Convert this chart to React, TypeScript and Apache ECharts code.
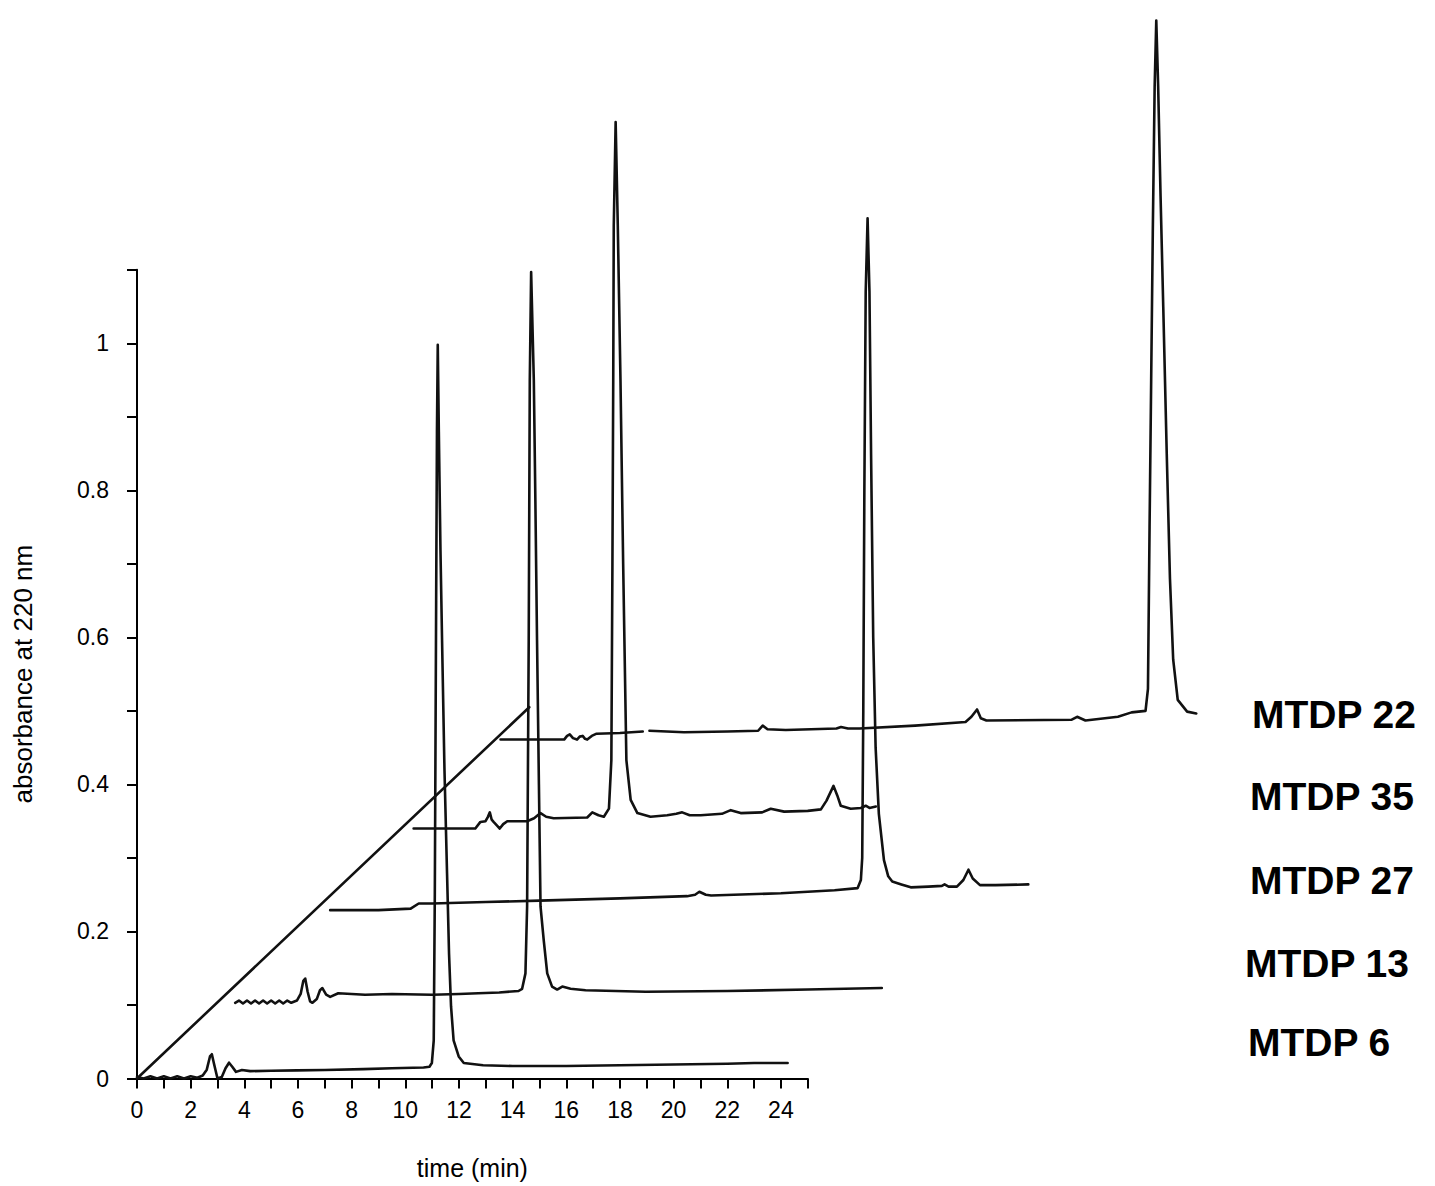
import React, { useEffect, useRef } from "react";
import * as echarts from "echarts";

// ---- data (time in min, absorbance at 220 nm), as drawn in the stacked plot ----
const traceNames = ["MTDP 6", "MTDP 13", "MTDP 27", "MTDP 35", "MTDP 22"];

const mtdp6: (number | string)[][] = [
  [0, 0.002], [0.25, 0.0], [0.5, 0.003], [0.75, 0.0], [1.0, 0.003], [1.25, 0.0], [1.5, 0.003],
  [1.75, 0.0], [2.0, 0.003], [2.25, 0.001], [2.45, 0.004], [2.6, 0.012], [2.72, 0.03], [2.79, 0.033],
  [2.87, 0.02], [3.0, 0.0], [3.16, 0.002], [3.3, 0.014], [3.43, 0.0215], [3.55, 0.016], [3.69, 0.009],
  [3.91, 0.0116], [4.22, 0.01], [5.0, 0.0105], [5.96, 0.011], [7.0, 0.0115], [8.44, 0.0128],
  [9.5, 0.014], [10.68, 0.015], [10.9, 0.016], [10.99, 0.021], [11.06, 0.052], [11.1, 0.25],
  [11.15, 0.65], [11.18, 0.88], [11.21, 0.998], [11.25, 0.88], [11.31, 0.72], [11.37, 0.596],
  [11.46, 0.42], [11.556, 0.279], [11.63, 0.17], [11.705, 0.098], [11.8, 0.052], [11.99, 0.03],
  [12.18, 0.021], [12.9, 0.018], [14, 0.017], [16, 0.017], [18, 0.018], [20, 0.019], [22, 0.02],
  [23, 0.021], [24.25, 0.021],
];

const mtdp13: (number | string)[][] = [
  [3.66, 0.103], [3.8, 0.106], [3.95, 0.102], [4.1, 0.106], [4.25, 0.102], [4.4, 0.106], [4.55, 0.102],
  [4.7, 0.106], [4.85, 0.102], [5.0, 0.106], [5.15, 0.102], [5.3, 0.106], [5.45, 0.102], [5.6, 0.106],
  [5.75, 0.103], [5.96, 0.106], [6.1, 0.115], [6.2, 0.133], [6.27, 0.136], [6.36, 0.118], [6.45, 0.105],
  [6.54, 0.103], [6.7, 0.108], [6.82, 0.12], [6.91, 0.123], [7.05, 0.114], [7.2, 0.111], [7.5, 0.116],
  [8.5, 0.114], [9.5, 0.115], [11.0, 0.114], [12.0, 0.115], [12.72, 0.116], [13.5, 0.117],
  [14.22, 0.119], [14.354, 0.122], [14.478, 0.143], [14.54, 0.234], [14.6, 0.596], [14.64, 0.95],
  [14.69, 1.097], [14.79, 0.95], [14.85, 0.78], [14.91, 0.596], [14.98, 0.4], [15.04, 0.234],
  [15.16, 0.188], [15.29, 0.143], [15.47, 0.125], [15.66, 0.121], [15.85, 0.125], [16.16, 0.122],
  [16.72, 0.12], [18.96, 0.118], [22, 0.119], [25, 0.121], [27.76, 0.123],
];

const mtdp27: (number | string)[][] = [
  [7.2, 0.229], [9.0, 0.229], [10.2, 0.231], [10.5, 0.238], [11.0, 0.238], [13, 0.24], [15.0, 0.242],
  [18.0, 0.245], [20.5, 0.248], [20.8, 0.25], [20.96, 0.254], [21.2, 0.25], [21.4, 0.249], [24.0, 0.252],
  [26.0, 0.256], [26.86, 0.259], [26.98, 0.27], [27.03, 0.3], [27.07, 0.5], [27.11, 0.8], [27.16, 1.07],
  [27.23, 1.17], [27.3, 1.07], [27.36, 0.85], [27.44, 0.6], [27.53, 0.45], [27.65, 0.36], [27.84, 0.297],
  [28.0, 0.275], [28.15, 0.268], [28.49, 0.264], [28.84, 0.26], [29.5, 0.261], [30.0, 0.262],
  [30.1, 0.264], [30.25, 0.261], [30.56, 0.261], [30.8, 0.27], [30.99, 0.284], [31.15, 0.272],
  [31.42, 0.263], [32, 0.263], [33.22, 0.264],
];

const mtdp35: (number | string)[][] = [
  [10.31, 0.34], [12.61, 0.34], [12.8, 0.349], [12.99, 0.35], [13.08, 0.356], [13.15, 0.362],
  [13.22, 0.352], [13.29, 0.349], [13.42, 0.344], [13.52, 0.34], [13.65, 0.346], [13.8, 0.35],
  [14.54, 0.35], [14.8, 0.354], [15.04, 0.361], [15.25, 0.356], [15.53, 0.354], [16.78, 0.355],
  [16.97, 0.362], [17.2, 0.358], [17.4, 0.356], [17.59, 0.367], [17.68, 0.433], [17.72, 0.7],
  [17.75, 0.95], [17.77, 1.16], [17.84, 1.301], [17.92, 1.16], [18.02, 0.95], [18.12, 0.7],
  [18.24, 0.433], [18.4, 0.379], [18.65, 0.361], [19.14, 0.356], [19.76, 0.358], [20.1, 0.36],
  [20.32, 0.362], [20.6, 0.358], [21.01, 0.358], [21.8, 0.36], [22.13, 0.365], [22.5, 0.361],
  [23.3, 0.362], [23.62, 0.367], [24.12, 0.363], [25.0, 0.364], [25.49, 0.366], [25.7, 0.378],
  [25.96, 0.398], [26.1, 0.385], [26.23, 0.371], [26.6, 0.367], [26.98, 0.368], [27.16, 0.371],
  [27.3, 0.368], [27.54, 0.37],
];

const mtdp22: (number | string)[][] = [
  [13.55, 0.461], [15.92, 0.461], [16.03, 0.466], [16.13, 0.468], [16.25, 0.463], [16.4, 0.461],
  [16.5, 0.465], [16.61, 0.466], [16.7, 0.462], [16.78, 0.461], [16.95, 0.466], [17.13, 0.469],
  [18.0, 0.47], [18.85, 0.472], [18.97, "-"], [19.1, 0.473], [20.39, 0.471], [22.0, 0.472],
  [23.15, 0.473], [23.32, 0.48], [23.5, 0.475], [24.18, 0.474], [26.07, 0.476], [26.24, 0.478],
  [26.5, 0.476], [26.93, 0.476], [29, 0.48], [30.88, 0.485], [31.1, 0.492], [31.31, 0.502],
  [31.45, 0.49], [31.66, 0.487], [34.84, 0.488], [35.04, 0.492], [35.35, 0.487], [36.56, 0.492],
  [37.07, 0.498], [37.59, 0.5], [37.68, 0.53], [37.74, 0.75], [37.8, 0.95], [37.86, 1.15],
  [37.93, 1.35], [37.99, 1.439], [38.06, 1.35], [38.15, 1.2], [38.25, 1.05], [38.38, 0.85],
  [38.5, 0.68], [38.62, 0.57], [38.79, 0.515], [39.14, 0.499], [39.48, 0.4965],
];

const diagonal: number[][] = [[0, 0], [14.62, 0.505]];

const xMin = 0;
const xMax = 25;
const xInterval = 1;
const yMin = 0;
const yMax = 1.1;
const yInterval = 0.1;

// label anchor positions (px) for the sample names
const labelLefts = [1248, 1245, 1250, 1250, 1252];
const labelCenters = [1042, 963, 880, 796, 714];

// ---- layout ----
const PX_PER_MIN = 26.83;
const PX_PER_ABS = 735.2;
const X0 = 137;
const Y0 = 1078.5;
const DATA_XMAX = 41;
const DATA_YMAX = 1.46;

export default function App() {
  const ref = useRef<HTMLDivElement>(null);

  useEffect(() => {
    const chart = echarts.init(ref.current as HTMLDivElement, null, { renderer: "svg" });
    const font = "'Liberation Sans', Arial, sans-serif";
    const lineStyle = { color: "#111", width: 2.6, join: "round", cap: "round" } as any;
    const traces = [mtdp6, mtdp13, mtdp27, mtdp35, mtdp22];

    const option: any = {
      animation: false,
      backgroundColor: "#fff",
      grid: [
        {
          left: X0,
          top: Y0 - yMax * PX_PER_ABS,
          width: xMax * PX_PER_MIN,
          height: yMax * PX_PER_ABS,
        },
        {
          left: X0,
          top: Y0 - DATA_YMAX * PX_PER_ABS,
          width: DATA_XMAX * PX_PER_MIN,
          height: DATA_YMAX * PX_PER_ABS,
        },
      ],
      xAxis: [
        {
          gridIndex: 0,
          type: "value",
          min: xMin,
          max: xMax,
          interval: xInterval,
          name: "time (min)",
          nameLocation: "middle",
          nameGap: 77,
          nameTextStyle: { fontFamily: font, fontSize: 25, color: "#000" },
          axisLine: { lineStyle: { color: "#000", width: 2 } },
          axisTick: { length: 10, lineStyle: { color: "#000", width: 2 } },
          splitLine: { show: false },
          axisLabel: {
            color: "#000",
            fontFamily: font,
            fontSize: 23,
            margin: 20,
            formatter: (v: number) => (Math.round(v) % 2 === 0 ? String(Math.round(v)) : ""),
          },
        },
        { gridIndex: 1, type: "value", min: 0, max: DATA_XMAX, show: false },
      ],
      yAxis: [
        {
          gridIndex: 0,
          type: "value",
          min: yMin,
          max: yMax,
          interval: yInterval,
          name: "absorbance at 220 nm",
          nameLocation: "middle",
          nameGap: 101,
          nameTextStyle: { fontFamily: font, fontSize: 26, color: "#000" },
          axisLine: { lineStyle: { color: "#000", width: 2 } },
          axisTick: { length: 10, lineStyle: { color: "#000", width: 2 } },
          splitLine: { show: false },
          axisLabel: {
            color: "#000",
            fontFamily: font,
            fontSize: 23,
            margin: 28,
            formatter: (v: number) => {
              const t = Math.round(v * 10);
              return t % 2 === 0 ? String(t / 10) : "";
            },
          },
        },
        { gridIndex: 1, type: "value", min: 0, max: DATA_YMAX, show: false },
      ],
      series: [
        ...traces.map((d, i) => ({
          name: traceNames[i],
          type: "line",
          xAxisIndex: 1,
          yAxisIndex: 1,
          data: d,
          symbol: "none",
          smooth: false,
          connectNulls: false,
          lineStyle,
          clip: false,
        })),
        {
          name: "offset",
          type: "line",
          xAxisIndex: 1,
          yAxisIndex: 1,
          data: diagonal,
          symbol: "none",
          lineStyle,
        },
      ],
      graphic: traceNames.map((n, i) => ({
        type: "text",
        x: labelLefts[i],
        y: labelCenters[i],
        style: {
          text: n,
          fill: "#000",
          font: `bold 39px ${font}`,
          textAlign: "left",
          textVerticalAlign: "middle",
        },
      })),
    };

    chart.setOption(option);
    return () => chart.dispose();
  }, []);

  return (
    <div
      ref={ref}
      style={{ position: "absolute", left: 0, top: 0, width: 1435, height: 1186, background: "#fff" }}
    />
  );
}
